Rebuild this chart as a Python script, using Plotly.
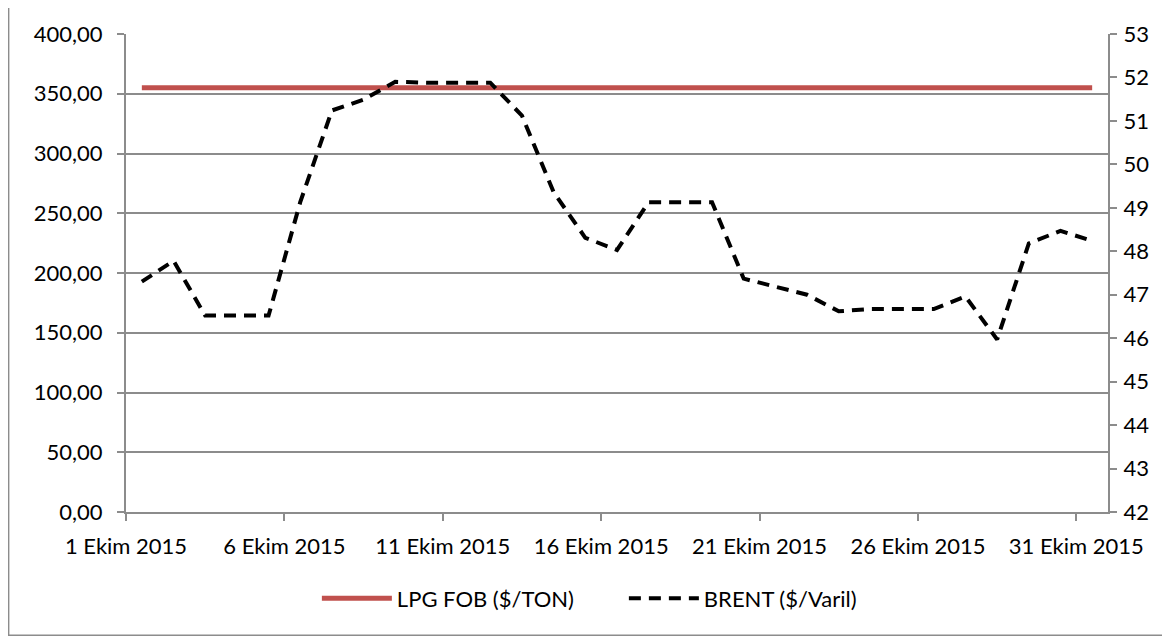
import plotly.graph_objects as go

# Ekim 2015 daily values
days = [f"2015-10-{d:02d}" for d in range(1, 32)]
lpg_fob = [355.0] * 31
brent = [47.30, 47.78, 46.52, 46.52, 46.52, 49.13, 51.24, 51.49, 51.90, 51.88,
         51.88, 51.88, 51.12, 49.36, 48.31, 48.03, 49.13, 49.13, 49.13, 47.37,
         47.19, 47.00, 46.62, 46.67, 46.67, 46.67, 46.96, 45.97, 48.18, 48.47,
         48.24]

tick_dates = ["2015-10-01", "2015-10-06", "2015-10-11", "2015-10-16",
              "2015-10-21", "2015-10-26", "2015-10-31"]
tick_labels = ["1 Ekim 2015", "6 Ekim 2015", "11 Ekim 2015", "16 Ekim 2015",
               "21 Ekim 2015", "26 Ekim 2015", "31 Ekim 2015"]

GRID = "#8c8c8c"
FONT = dict(family="Lato, Open Sans, sans-serif", size=22, color="#000000")

fig = go.Figure()
fig.add_trace(go.Scatter(
    x=days, y=lpg_fob, name="LPG FOB ($/TON)", mode="lines",
    xperiod=86400000, xperiodalignment="middle",
    line=dict(color="#C0504D", width=5),
    yaxis="y"
))
fig.add_trace(go.Scatter(
    x=days, y=brent, name="BRENT ($/Varil)", mode="lines",
    xperiod=86400000, xperiodalignment="middle",
    line=dict(color="#000000", width=4, dash="12px,8px"),
    yaxis="y2"
))

# page body has an 8px margin, so the figure is a bit smaller than the window
fig.update_layout(
    width=1162, height=633,
    margin=dict(l=118, r=62, t=23, b=129),
    paper_bgcolor="white", plot_bgcolor="white",
    font=FONT,
    separators=",.",
    showlegend=True,
    legend=dict(orientation="h", x=0.507, xanchor="center", y=-0.137, yanchor="top",
                itemwidth=70, entrywidth=222, font=FONT, bgcolor="rgba(0,0,0,0)"),
    xaxis=dict(
        type="date", range=["2015-10-01", "2015-11-01"],
        tickmode="array", tickvals=tick_dates, ticktext=tick_labels,
        showgrid=False, showline=True, linecolor=GRID, linewidth=2,
        ticks="outside", ticklen=7, tickcolor=GRID, tickwidth=2,
        ticklabelstandoff=7, zeroline=False
    ),
    yaxis=dict(
        range=[0, 400], dtick=50, tickformat=".2f",
        showgrid=True, gridcolor=GRID, gridwidth=2,
        showline=True, linecolor=GRID, linewidth=2,
        ticks="outside", ticklen=7, tickcolor=GRID, tickwidth=2,
        ticklabelstandoff=10, zeroline=False
    ),
    yaxis2=dict(
        range=[42, 53], dtick=1, overlaying="y", side="right",
        showgrid=False, showline=True, linecolor=GRID, linewidth=2,
        ticks="outside", ticklen=7, tickcolor=GRID, tickwidth=2,
        ticklabelstandoff=2, zeroline=False
    ),
    shapes=[dict(type="rect", xref="paper", yref="paper",
                 x0=-0.1195, x1=1.058, y0=-0.2578, y1=1.0603,
                 line=dict(color=GRID, width=1.5), layer="below")]
)

fig.write_html("out.html")
